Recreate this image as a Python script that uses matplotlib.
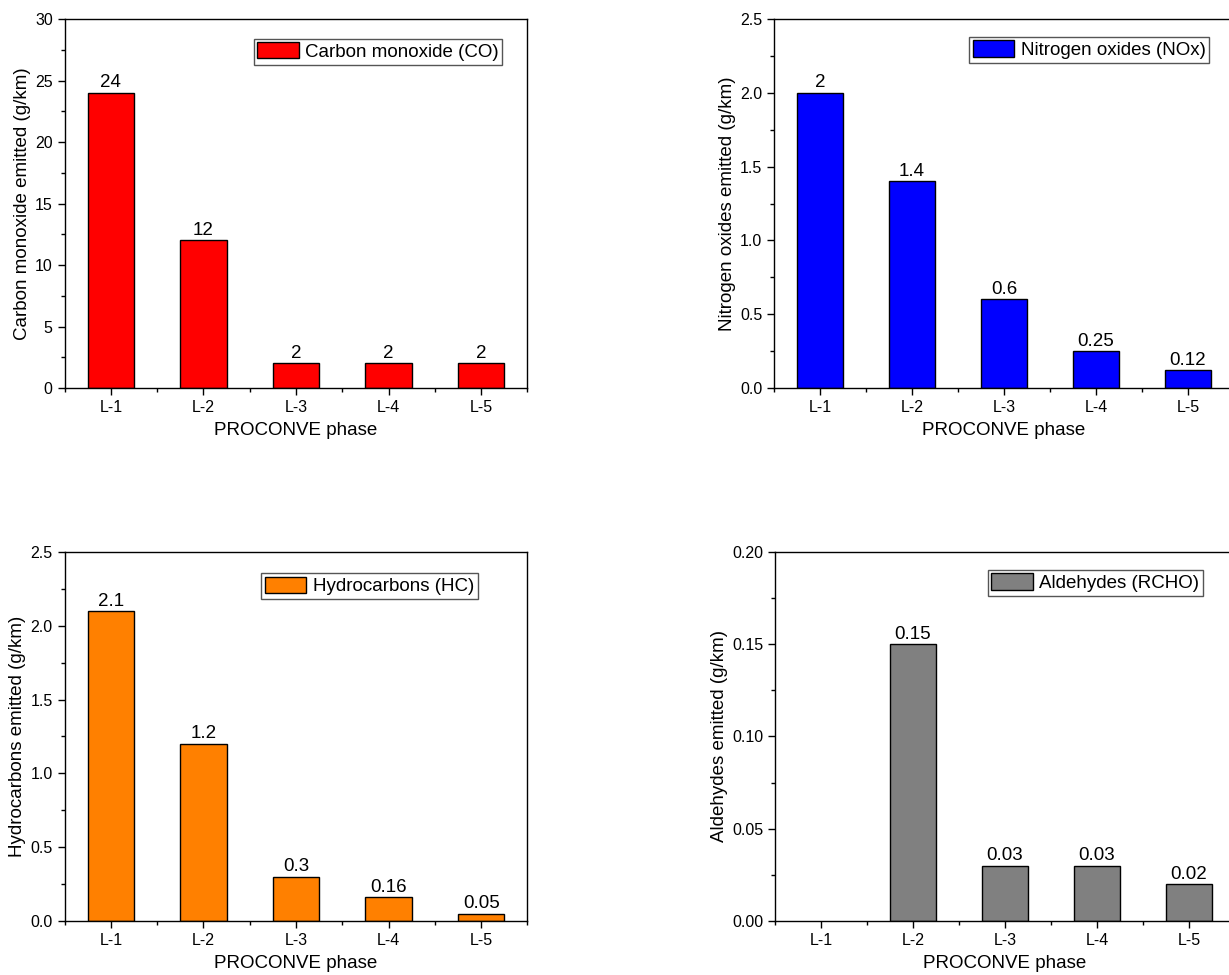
import matplotlib.pyplot as plt
import numpy as np
from matplotlib.patches import Patch
from matplotlib.ticker import MultipleLocator, FormatStrFormatter

plt.switch_backend('agg')
plt.rcParams['font.family'] = ['Liberation Sans', 'DejaVu Sans']

phases = ['L-1', 'L-2', 'L-3', 'L-4', 'L-5']

co = [24, 12, 2, 2, 2]
co_labels = ['24', '12', '2', '2', '2']

nox = [2, 1.4, 0.6, 0.25, 0.12]
nox_labels = ['2', '1.4', '0.6', '0.25', '0.12']

hc = [2.1, 1.2, 0.3, 0.16, 0.05]
hc_labels = ['2.1', '1.2', '0.3', '0.16', '0.05']

# no aldehyde limit in L-1
rcho = [0, 0.15, 0.03, 0.03, 0.02]
rcho_labels = ['', '0.15', '0.03', '0.03', '0.02']

panels = [
    # values, labels, colour, legend, ylabel, ymax, major, fmt, rect, legend anchor
    (co, co_labels, '#ff0000', 'Carbon monoxide (CO)', 'Carbon monoxide emitted (g/km)',
     30, 5, '%d', [0.0525, 0.602, 0.3767, 0.3785], (0.946, 0.947)),
    (nox, nox_labels, '#0000ff', 'Nitrogen oxides (NOx)', 'Nitrogen oxides emitted (g/km)',
     2.5, 0.5, '%.1f', [0.6298, 0.602, 0.3743, 0.3785], (0.946, 0.952)),
    (hc, hc_labels, '#ff8000', 'Hydrocarbons (HC)', 'Hydrocarbons emitted (g/km)',
     2.5, 0.5, '%.1f', [0.0525, 0.0554, 0.3767, 0.3785], (0.893, 0.943)),
    (rcho, rcho_labels, '#808080', 'Aldehydes (RCHO)', 'Aldehydes emitted (g/km)',
     0.20, 0.05, '%.2f', [0.6306, 0.0554, 0.3743, 0.3785], (0.930, 0.952)),
]

fig = plt.figure(figsize=(12.29, 9.75), dpi=100)
x = np.arange(1, len(phases) + 1)

for vals, labs, col, leg, ylab, ymax, major, fmt, rect, anchor in panels:
    ax = fig.add_axes(rect)
    bars = ax.bar(x, vals, width=0.5, color=col, edgecolor='black', linewidth=1.0)
    for b, v in zip(bars, vals):
        if v == 0:
            b.set_visible(False)
    ax.bar_label(bars, labels=labs, padding=1, fontsize=13.5)
    ax.set_xlim(0.5, 5.5)
    ax.set_ylim(0, ymax)
    ax.set_xticks(x)
    ax.set_xticklabels(phases)
    ax.xaxis.set_minor_locator(MultipleLocator(0.5))
    ax.yaxis.set_major_locator(MultipleLocator(major))
    ax.yaxis.set_minor_locator(MultipleLocator(major / 2))
    ax.yaxis.set_major_formatter(FormatStrFormatter(fmt))
    ax.tick_params(which='both', direction='out', labelsize=11.5, width=1.0)
    ax.tick_params(which='major', length=5)
    ax.tick_params(which='minor', length=3)
    for s in ax.spines.values():
        s.set_linewidth(1.0)
    ax.set_xlabel('PROCONVE phase', fontsize=13.5, labelpad=5)
    ax.set_ylabel(ylab, fontsize=13.5, labelpad=3)
    handle = Patch(facecolor=col, edgecolor='black', linewidth=1.0)
    ax.legend([handle], [leg], loc='upper right', bbox_to_anchor=anchor, borderaxespad=0,
              fontsize=13.5, fancybox=False, edgecolor='#555555', framealpha=1,
              borderpad=0.2, handlelength=2.2, handleheight=0.95, handletextpad=0.35)

fig.savefig('out.png', dpi=100)
plt.close('all')
